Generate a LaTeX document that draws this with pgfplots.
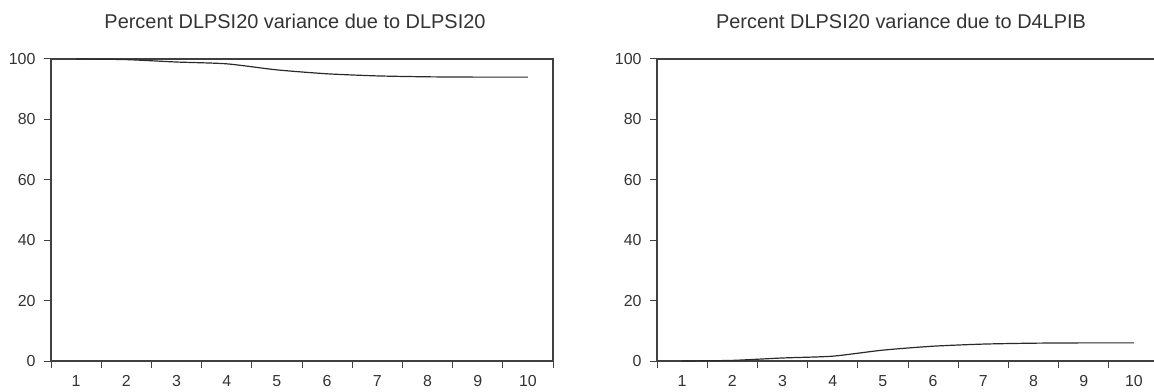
\documentclass[border=0pt]{standalone}
\usepackage{fontspec}
\setmainfont{Liberation Sans}
\usepackage{pgfplots}
\pgfplotsset{compat=1.18}
\definecolor{ax}{HTML}{404040}
\definecolor{ln}{HTML}{2A2A2A}
\definecolor{tx}{HTML}{333333}
\begin{document}
\begin{tikzpicture}
\path[use as bounding box] (0bp,0bp) rectangle (1154bp,392bp);
\clip (0bp,0bp) rectangle (1154bp,392bp);
\pgfplotsset{
 every axis title/.style={at={(0.5,1)}, anchor=base, yshift=30bp, xshift=-7bp, font=\fontsize{20}{20}\selectfont, text=tx},
 myax/.style={
  scale only axis, width=502bp, height=302bp,
  xmin=0.5,xmax=10.5,ymin=0,ymax=100,
  xtick={1,...,10}, ytick={0,20,...,100},
  minor xtick={0.5,1.5,...,10.5},
  xtick pos=left, ytick pos=left,
  tick align=outside,
  every tick/.style={ax, line width=1bp},
  major x tick style={draw=none},
  major tick length=7bp, minor tick length=7bp,
  axis line style={ax, line width=1.5bp},
  ticklabel style={font=\fontsize{16}{16}\selectfont, text=tx},
  xticklabel style={yshift=-4bp},
  yticklabel style={xshift=-5bp},
  /pgf/number format/assume math mode=true,
  anchor=south west,
  clip=false,
 }
}
\begin{axis}[myax, at={(51bp,31bp)}, title={Percent DLPSI20 variance due to DLPSI20}]
\addplot[ln, line width=1.2bp, smooth, tension=0.4] coordinates {
(1,100.0) (2,99.8) (3,99.0) (4,98.4) (5,96.4) (6,95.1) (7,94.4) (8,94.1) (9,94.0) (10,94.0)};
\end{axis}
\begin{axis}[myax, at={(657bp,31bp)}, title={Percent DLPSI20 variance due to D4LPIB}]
\addplot[ln, line width=1.2bp, smooth, tension=0.4] coordinates {
(1,0.0) (2,0.2) (3,1.0) (4,1.6) (5,3.6) (6,4.9) (7,5.6) (8,5.9) (9,6.0) (10,6.0)};
\end{axis}
\end{tikzpicture}
\end{document}
